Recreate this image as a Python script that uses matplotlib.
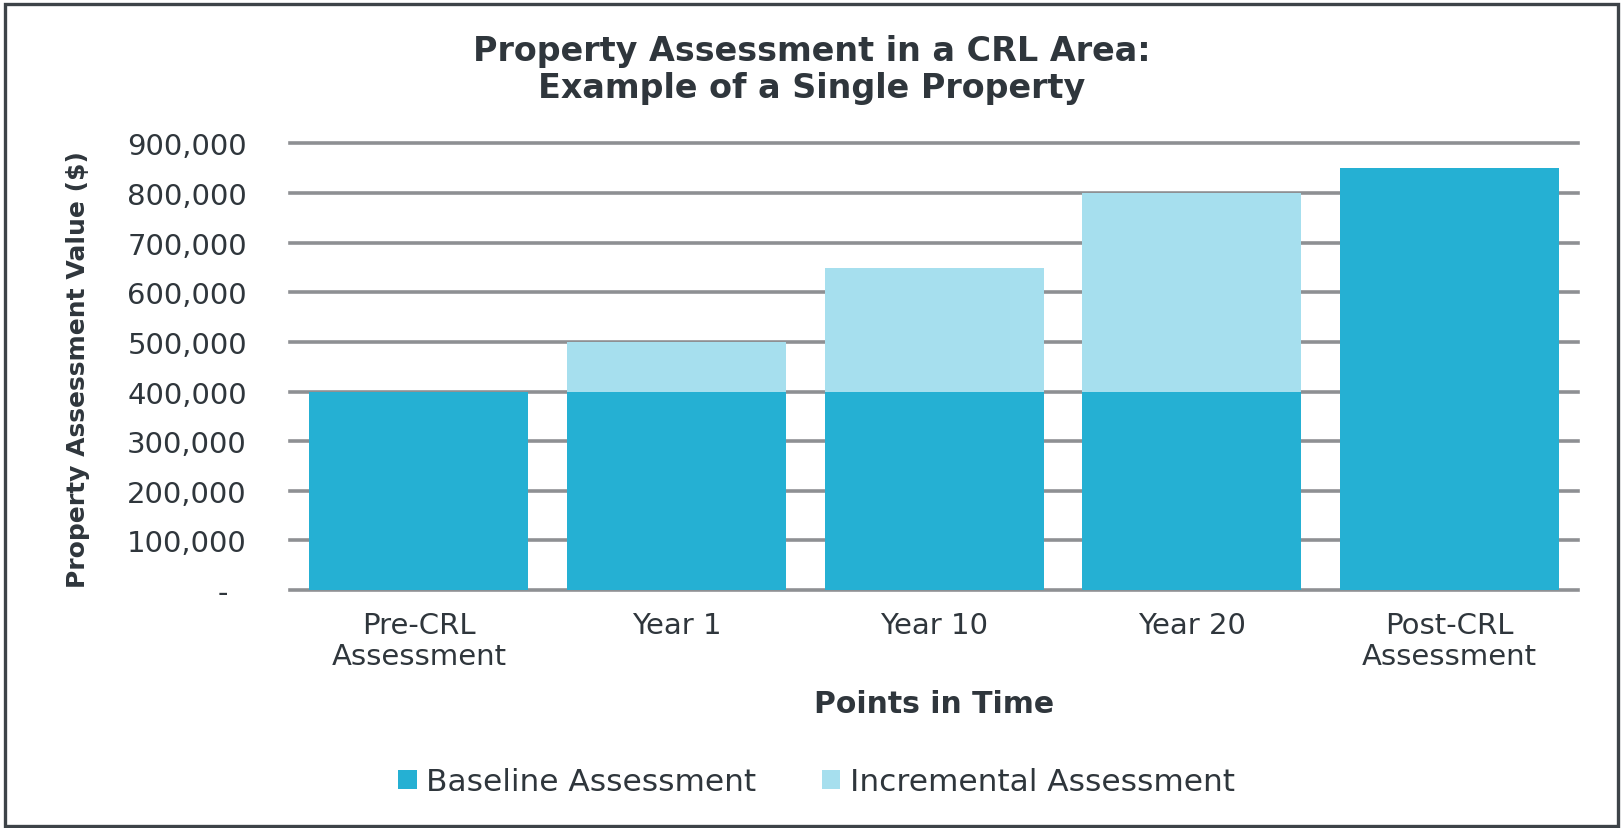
import numpy as np
import matplotlib
matplotlib.use("Agg")
import matplotlib.pyplot as plt
from matplotlib.patches import Rectangle
from matplotlib.ticker import FuncFormatter

CATEGORIES = ["Pre-CRL\nAssessment", "Year 1", "Year 10", "Year 20", "Post-CRL\nAssessment"]
BASELINE = [400000, 400000, 400000, 400000, 850000]
INCREMENTAL = [0, 100000, 250000, 400000, 0]
Y_TICKS = [0, 100000, 200000, 300000, 400000, 500000, 600000, 700000, 800000, 900000]

BASE_COLOR = "#25b0d3"
INCR_COLOR = "#a6dfee"
GRID_COLOR = "#8e9093"
TEXT_COLOR = "#2f363c"
FRAME_COLOR = "#3d4348"


def fmt_value(v, pos):
    # accounting style: zero shows as a dash
    if v == 0:
        return "-  "
    return f"{v:,.0f}"


def main():
    fig = plt.figure(figsize=(16.23, 8.29), dpi=100)
    ax = fig.add_axes([0.1787, 0.2871, 0.9723 - 0.1787, 0.8257 - 0.2871])

    x = np.arange(len(CATEGORIES))
    ax.bar(x, BASELINE, width=0.85, color=BASE_COLOR, label="Baseline Assessment", zorder=3)
    ax.bar(x, INCREMENTAL, width=0.85, bottom=BASELINE, color=INCR_COLOR,
           label="Incremental Assessment", zorder=3)

    ax.set_xlim(-0.5, len(CATEGORIES) - 0.5)
    ax.set_ylim(0, 900000)
    ax.set_yticks(Y_TICKS)
    ax.yaxis.set_major_formatter(FuncFormatter(fmt_value))
    ax.set_xticks(x)
    ax.set_xticklabels(CATEGORIES, linespacing=1.15)

    ax.grid(axis="y", color=GRID_COLOR, linewidth=2.6, zorder=0)
    ax.set_axisbelow(True)
    for gl in ax.yaxis.get_gridlines():
        gl.set_clip_on(False)
    for s in ax.spines.values():
        s.set_visible(False)
    ax.tick_params(axis="both", length=0, labelsize=21, labelcolor=TEXT_COLOR)
    ax.tick_params(axis="y", pad=31)
    ax.tick_params(axis="x", pad=15)

    ax.set_xlabel("Points in Time", fontsize=21.5, fontweight="bold", color=TEXT_COLOR)
    ax.xaxis.label.set_va("center")
    ax.xaxis.set_label_coords(0.5, -0.254)
    ax.set_ylabel("Property Assessment Value ($)", fontsize=18, fontweight="bold",
                  color=TEXT_COLOR)
    ax.yaxis.label.set_va("center")
    ax.yaxis.set_label_coords(-0.1646, 0.497)

    fig.text(0.5, 1 - 35 / 829, "Property Assessment in a CRL Area:\nExample of a Single Property",
             ha="center", va="top", fontsize=24, fontweight="bold", color=TEXT_COLOR,
             linespacing=1.15)

    ax.legend(loc="center", bbox_to_anchor=(0.503, 0.0555), bbox_transform=fig.transFigure,
              ncol=2, frameon=False, fontsize=22.5, labelcolor=TEXT_COLOR,
              handlelength=0.6, handleheight=0.55, handletextpad=0.3, columnspacing=2.1)

    # outer frame
    fig.patches.append(Rectangle((5 / 1623, 2 / 829), 1613 / 1623, 822 / 829,
                                 transform=fig.transFigure, fill=False,
                                 edgecolor=FRAME_COLOR, linewidth=2.4))

    fig.savefig("out.png", dpi=100, facecolor="white")


if __name__ == "__main__":
    main()
